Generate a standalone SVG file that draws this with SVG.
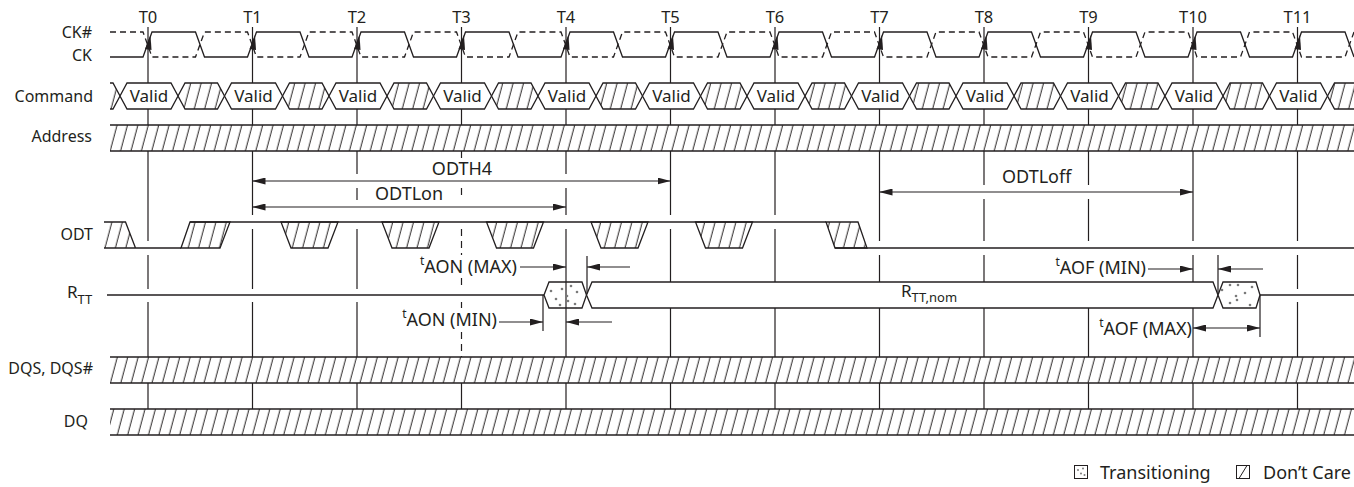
<svg xmlns="http://www.w3.org/2000/svg" width="1354" height="487" viewBox="0 0 1354 487">
<style>
.ln{fill:none;stroke:#231f20;stroke-width:1.3}
.tl{fill:none;stroke:#231f20;stroke-width:1.2}
.ds{stroke-dasharray:6 4}
.td{stroke-dasharray:7 5}
.ht{fill:url(#hatch);stroke:none}
.hs{fill:url(#hatch);stroke:#231f20;stroke-width:1.3}
.wf{fill:#fff;stroke:#231f20;stroke-width:1.3}
.ar{fill:none;stroke:#231f20;stroke-width:1.2}
.ah{fill:#231f20}
.dot{fill:#7a7a7a}
text{font-family:"Noto Sans","Open Sans","DejaVu Sans",sans-serif;fill:#231f20}
.lb{font-size:16px;text-anchor:end}
.tk{font-size:16.5px;text-anchor:middle}
.vd{font-size:17px;text-anchor:middle}
.an{font-size:18px}
</style>
<defs>
<pattern id="hatch" patternUnits="userSpaceOnUse" width="10.4" height="26" patternTransform="skewX(-15)">
<line x1="5" y1="-2" x2="5" y2="28" stroke="#231f20" stroke-width="1"/>
</pattern>
<marker id="m" viewBox="0 0 13 7" refX="13" refY="3.5" markerWidth="13" markerHeight="7" markerUnits="userSpaceOnUse" orient="auto-start-reverse">
<path d="M0,0 L13,3.5 L0,7 z" fill="#231f20"/>
</marker>
</defs>
<rect width="1354" height="487" fill="#fff"/>

<g id="signal-labels">
<text class="lb" x="92" y="38">CK#</text>
<text class="lb" x="92" y="61">CK</text>
<text class="lb" x="93" y="102">Command</text>
<text class="lb" x="92" y="142">Address</text>
<text class="lb" x="93" y="240">ODT</text>
<text x="67" y="298" font-size="17">R<tspan font-size="13" dy="6">TT</tspan></text>
<text class="lb" x="93" y="374">DQS, DQS#</text>
<text class="lb" x="88" y="427">DQ</text>
</g>

<g id="clock-ticks">
<text class="tk" x="148" y="23">T0</text>
<text class="tk" x="252.5" y="23">T1</text>
<text class="tk" x="357" y="23">T2</text>
<text class="tk" x="461.5" y="23">T3</text>
<text class="tk" x="566" y="23">T4</text>
<text class="tk" x="670.5" y="23">T5</text>
<text class="tk" x="775" y="23">T6</text>
<text class="tk" x="879.5" y="23">T7</text>
<text class="tk" x="984" y="23">T8</text>
<text class="tk" x="1088.5" y="23">T9</text>
<text class="tk" x="1193" y="23">T10</text>
<text class="tk" x="1297.5" y="23">T11</text>
</g>

<g id="connectors">
<path class="tl" d="M148,27V83M148,109V125M148,151V241M148,255V289M148,302V357M148,383V409
M252.5,27V83M252.5,109V125M252.5,151V215M252.5,229V289M252.5,302V357M252.5,383V409
M357,27V83M357,109V125M357,151V174M357,188V200M357,229V289M357,302V357M357,383V409
M461.5,27V83M461.5,109V125M461.5,383V409
M566,27V83M566,109V125M566,151V174M566,188V215M566,229V357M566,383V409
M670.5,27V83M670.5,109V125M670.5,151V215M670.5,229V282M670.5,308V357M670.5,383V409
M775,27V83M775,109V125M775,151V215M775,229V282M775,308V357M775,383V409
M879.5,27V83M879.5,109V125M879.5,151V241M879.5,255V282M879.5,308V357M879.5,383V409
M984,27V83M984,109V125M984,151V185M984,199V241M984,255V282M984,308V357M984,383V409
M1088.5,27V83M1088.5,109V125M1088.5,151V185M1088.5,199V241M1088.5,308V357M1088.5,383V409
M1193,27V83M1193,109V125M1193,151V241M1193,255V282M1193,308V357M1193,383V409
M1297.5,27V83M1297.5,109V125M1297.5,151V241M1297.5,255V289M1297.5,302V357M1297.5,383V409"/>
<path class="tl td" d="M461.5,151V160M461.5,188V200M461.5,229V255M461.5,278V289M461.5,302V308M461.5,332V357"/>
<g id="edge-arrows" class="ah">
<polygon points="150.5,35 145,49 151.5,50"/>
<polygon points="255,35 249.5,49 256,50"/>
<polygon points="359.5,35 354,49 360.5,50"/>
<polygon points="464,35 458.5,49 465,50"/>
<polygon points="568.5,35 563,49 569.5,50"/>
<polygon points="673,35 667.5,49 674,50"/>
<polygon points="777.5,35 772,49 778.5,50"/>
<polygon points="882,35 876.5,49 883,50"/>
<polygon points="986.5,35 981,49 987.5,50"/>
<polygon points="1091,35 1085.5,49 1092,50"/>
<polygon points="1195.5,35 1190,49 1196.5,50"/>
<polygon points="1300,35 1294.5,49 1301,50"/>
</g>
<path class="ar" marker-start="url(#m)" marker-end="url(#m)" d="M252.5,181H670.5"/>
<path class="ar" marker-start="url(#m)" marker-end="url(#m)" d="M252.5,207H566"/>
<path class="ar" marker-start="url(#m)" marker-end="url(#m)" d="M879.5,192H1193"/>
<path class="ar" marker-end="url(#m)" d="M520,267H566"/>
<path class="ar" marker-end="url(#m)" d="M630,267H587"/>
<path class="ar" marker-end="url(#m)" d="M499,322H543"/>
<path class="ar" marker-end="url(#m)" d="M612,322H566"/>
<path class="ar" marker-end="url(#m)" d="M1148,269H1193"/>
<path class="ar" marker-end="url(#m)" d="M1263,269H1218"/>
<path class="ar" marker-start="url(#m)" marker-end="url(#m)" d="M1193,328H1260"/>
<path class="tl" d="M587,256V295M543,295V331M1218,255V295M1260,295V337"/>
</g>

<g id="annotations">
<text class="an" x="462" y="175" text-anchor="middle">ODTH4</text>
<text class="an" x="375" y="200">ODTLon</text>
<text class="an" x="1002" y="183">ODTLoff</text>
<text class="an" x="517" y="273" text-anchor="end"><tspan font-size="12" dy="-8">t</tspan><tspan dy="8">AON (MAX)</tspan></text>
<text class="an" x="497" y="326" text-anchor="end"><tspan font-size="12" dy="-8">t</tspan><tspan dy="8">AON (MIN)</tspan></text>
<text class="an" x="1146" y="274" text-anchor="end"><tspan font-size="12" dy="-8">t</tspan><tspan dy="8">AOF (MIN)</tspan></text>
<text class="an" x="1192" y="335" text-anchor="end"><tspan font-size="12" dy="-8">t</tspan><tspan dy="8">AOF (MAX)</tspan></text>
</g>

<g id="ck">
<path class="ln ds" d="M110,32H143L152,57H195.5L204.5,32H247.5L256.5,57H300L309,32H352L361,57H404.5L413.5,32H456.5L465.5,57H509L518,32H561L570,57H613.5L622.5,32H665.5L674.5,57H718L727,32H770L779,57H822.5L831.5,32H874.5L883.5,57H927L936,32H979L988,57H1031.5L1040.5,32H1083.5L1092.5,57H1136L1145,32H1188L1197,57H1240.5L1249.5,32H1292.5L1301.5,57H1345L1354,32"/>
<path class="ln" d="M110,57H143L152,32H195.5L204.5,57H247.5L256.5,32H300L309,57H352L361,32H404.5L413.5,57H456.5L465.5,32H509L518,57H561L570,32H613.5L622.5,57H665.5L674.5,32H718L727,57H770L779,32H822.5L831.5,57H874.5L883.5,32H927L936,57H979L988,32H1031.5L1040.5,57H1083.5L1092.5,32H1136L1145,57H1188L1197,32H1240.5L1249.5,57H1292.5L1301.5,32H1345L1354,57"/>
</g>

<g id="command">
<polygon class="ht" points="110,83 113,83 120,96 113,109 110,109"/>
<path class="ln" d="M110,83H113L120,96L113,109H110"/>
<g class="hs">
<polygon points="178,96 185,83 217.5,83 224.5,96 217.5,109 185,109"/>
<polygon points="282.5,96 289.5,83 322,83 329,96 322,109 289.5,109"/>
<polygon points="387,96 394,83 426.5,83 433.5,96 426.5,109 394,109"/>
<polygon points="491.5,96 498.5,83 531,83 538,96 531,109 498.5,109"/>
<polygon points="596,96 603,83 635.5,83 642.5,96 635.5,109 603,109"/>
<polygon points="700.5,96 707.5,83 740,83 747,96 740,109 707.5,109"/>
<polygon points="805,96 812,83 844.5,83 851.5,96 844.5,109 812,109"/>
<polygon points="909.5,96 916.5,83 949,83 956,96 949,109 916.5,109"/>
<polygon points="1014,96 1021,83 1053.5,83 1060.5,96 1053.5,109 1021,109"/>
<polygon points="1118.5,96 1125.5,83 1158,83 1165,96 1158,109 1125.5,109"/>
<polygon points="1223,96 1230,83 1262.5,83 1269.5,96 1262.5,109 1230,109"/>
<polygon points="1327.5,96 1334.5,83 1367,83 1374,96 1367,109 1334.5,109"/>
</g>
<g class="wf">
<polygon points="120,96 127,83 171,83 178,96 171,109 127,109"/>
<polygon points="224.5,96 231.5,83 275.5,83 282.5,96 275.5,109 231.5,109"/>
<polygon points="329,96 336,83 380,83 387,96 380,109 336,109"/>
<polygon points="433.5,96 440.5,83 484.5,83 491.5,96 484.5,109 440.5,109"/>
<polygon points="538,96 545,83 589,83 596,96 589,109 545,109"/>
<polygon points="642.5,96 649.5,83 693.5,83 700.5,96 693.5,109 649.5,109"/>
<polygon points="747,96 754,83 798,83 805,96 798,109 754,109"/>
<polygon points="851.5,96 858.5,83 902.5,83 909.5,96 902.5,109 858.5,109"/>
<polygon points="956,96 963,83 1007,83 1014,96 1007,109 963,109"/>
<polygon points="1060.5,96 1067.5,83 1111.5,83 1118.5,96 1111.5,109 1067.5,109"/>
<polygon points="1165,96 1172,83 1216,83 1223,96 1216,109 1172,109"/>
<polygon points="1269.5,96 1276.5,83 1320.5,83 1327.5,96 1320.5,109 1276.5,109"/>
</g>
<text class="vd" x="149" y="102">Valid</text>
<text class="vd" x="253.5" y="102">Valid</text>
<text class="vd" x="358" y="102">Valid</text>
<text class="vd" x="462.5" y="102">Valid</text>
<text class="vd" x="567" y="102">Valid</text>
<text class="vd" x="671.5" y="102">Valid</text>
<text class="vd" x="776" y="102">Valid</text>
<text class="vd" x="880.5" y="102">Valid</text>
<text class="vd" x="985" y="102">Valid</text>
<text class="vd" x="1089.5" y="102">Valid</text>
<text class="vd" x="1194" y="102">Valid</text>
<text class="vd" x="1298.5" y="102">Valid</text>
</g>

<g id="address">
<rect class="ht" x="110" y="125" width="1244" height="26"/>
<path class="ln" d="M110,125H1354M110,151H1354"/>
</g>

<g id="odt">
<polygon class="ht" points="104,222 125.5,222 135.5,248 104,248"/>
<path class="ln" d="M104,222H125.5L135.5,248M104,248H181M190,222H826M835,248H1354"/>
<g class="hs">
<polygon points="181,248 190,222 230,222 220,248"/>
<polygon points="281,222 338,222 328,248 291,248"/>
<polygon points="382,222 439,222 429,248 392,248"/>
<polygon points="486.5,222 543.5,222 533.5,248 496.5,248"/>
<polygon points="591,222 648,222 638,248 601,248"/>
<polygon points="695.5,222 752.5,222 742.5,248 705.5,248"/>
<polygon points="826,222 858,222 867,248 835,248"/>
</g>
</g>

<g id="rtt">
<path class="ln" d="M107,295H544M1260,295H1354"/>
<polygon class="ln" points="544,295 549,282 582,282 586.5,295 582,308 549,308"/>
<polygon class="wf" points="586.5,295 592,282 1213,282 1218,295 1213,308 592,308"/>
<polygon class="wf" points="1218,295 1223,282 1256,282 1260,295 1256,308 1223,308"/>
<g class="dot">
<circle cx="551" cy="291" r="1.3"/><circle cx="562" cy="289" r="1.3"/><circle cx="571" cy="286" r="1.3"/>
<circle cx="577" cy="292" r="1.3"/><circle cx="567" cy="296" r="1.3"/><circle cx="568" cy="301" r="1.3"/>
<circle cx="560" cy="305" r="1.3"/><circle cx="575" cy="304" r="1.3"/><circle cx="556" cy="299" r="1.3"/>
<circle cx="1222" cy="290" r="1.3"/><circle cx="1230" cy="285" r="1.3"/><circle cx="1238" cy="285" r="1.3"/>
<circle cx="1245" cy="293" r="1.3"/><circle cx="1252" cy="287" r="1.3"/><circle cx="1237" cy="300" r="1.3"/>
<circle cx="1230" cy="303" r="1.3"/><circle cx="1250" cy="305" r="1.3"/><circle cx="1236" cy="296" r="1.3"/>
</g>
<text x="901" y="297" font-size="17">R<tspan font-size="13" dy="5">TT,nom</tspan></text>
</g>

<g id="dqs">
<rect class="ht" x="110" y="357" width="1244" height="26"/>
<path class="ln" d="M110,357H1354M110,383H1354"/>
</g>

<g id="dq">
<rect class="ht" x="110" y="409" width="1244" height="26"/>
<path class="ln" d="M110,409H1354M110,435H1354"/>
</g>

<g id="legend">
<rect x="1074.5" y="465.5" width="13" height="13" fill="#fff" stroke="#231f20" stroke-width="1"/>
<g class="dot"><circle cx="1078" cy="470" r="1"/><circle cx="1083" cy="468.5" r="1"/><circle cx="1081" cy="473.5" r="1"/><circle cx="1084.5" cy="475" r="1"/></g>
<text class="an" x="1100" y="479">Transitioning</text>
<rect x="1236.5" y="465.5" width="13" height="13" fill="#fff" stroke="#231f20" stroke-width="1"/>
<line x1="1239" y1="478.5" x2="1247" y2="465.5" stroke="#231f20" stroke-width="1"/>
<text class="an" x="1263" y="479">Don&#8217;t Care</text>
</g>
</svg>
